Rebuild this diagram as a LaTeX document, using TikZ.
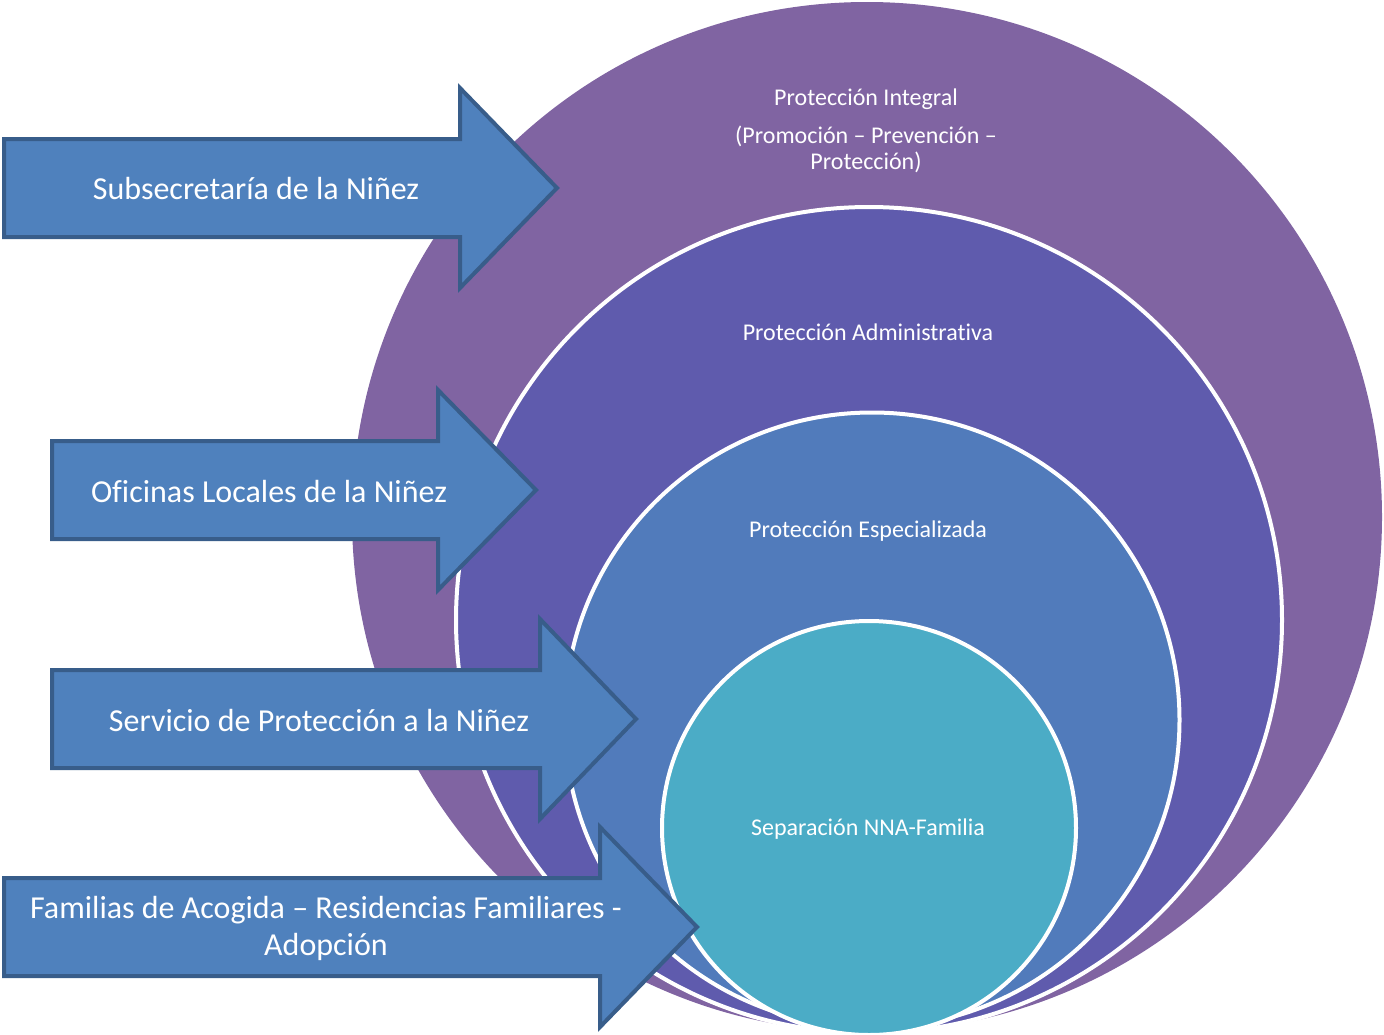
\documentclass[tikz,border=0pt]{standalone}
\usepackage{fontspec}
\setmainfont{Carlito}[Ligatures=NoCommon]
\usetikzlibrary{positioning}
\definecolor{integral}{HTML}{8064A2}
\definecolor{administrativa}{HTML}{5F5BAD}
\definecolor{especializada}{HTML}{517BBB}
\definecolor{separacion}{HTML}{4BACC6}
\definecolor{flechafill}{HTML}{4F81BD}
\definecolor{flechaline}{HTML}{385D8A}
\begin{document}
\begin{tikzpicture}[
x=1pt, y=-1pt,
ring/.style = {circle, inner sep=0pt, draw=white, line width=4pt},
lbl/.style  = {text=white, align=center, font=\fontsize{24}{26}\selectfont},
flecha/.style = {fill=flechafill, draw=flechaline, line width=4pt, line join=miter},
ftxt/.style = {text=white, align=center, font=\fontsize{32}{37}\selectfont}
                        ]
\useasboundingbox (0,0) rectangle (1384,1034);
% circles, outer to inner
\node (integral)       [ring, draw=none, fill=integral, minimum size=1030] at (867,517) {};
\node (administrativa) [ring, fill=administrativa, minimum size=826] at (869,620) {};
\node (especializada)  [ring, fill=especializada, minimum size=615] at (872,720) {};
\node (separacion)     [ring, fill=separacion, minimum size=414] at (869,828) {};
%
\node (l1) [lbl] at (866,99)  {Protección Integral};
\node (l2) [lbl, below=9pt of l1] {(Promoción – Prevención –\\Protección)};
\node (l3) [lbl] at (868,332) {Protección Administrativa};
\node (l4) [lbl] at (868,531) {Protección Especializada};
\node (l5) [lbl] at (868,829) {Separación NNA-Familia};
% arrows
\foreach \n/\xl/\xn/\xt/\y/\tx/\txt in {
    subse/4/460/557/188/256/{Subsecretaría de la Niñez},
    oficinas/52/438/536/490/269/{Oficinas Locales de la Niñez},
    servicio/52/540/636/719/319/{Servicio de Protección a la Niñez},
    familias/4/600/697/927/326/{Familias de Acogida – Residencias Familiares -\\Adopción}}
{
\draw[flecha] (\xl,{\y-49}) -- (\xn,{\y-49}) -- (\xn,{\y-100}) -- (\xt,\y)
    -- (\xn,{\y+100}) -- (\xn,{\y+49}) -- (\xl,{\y+49}) -- cycle;
\node (\n) [ftxt] at (\tx,{\y+1}) {\txt};
}
\end{tikzpicture}
\end{document}
